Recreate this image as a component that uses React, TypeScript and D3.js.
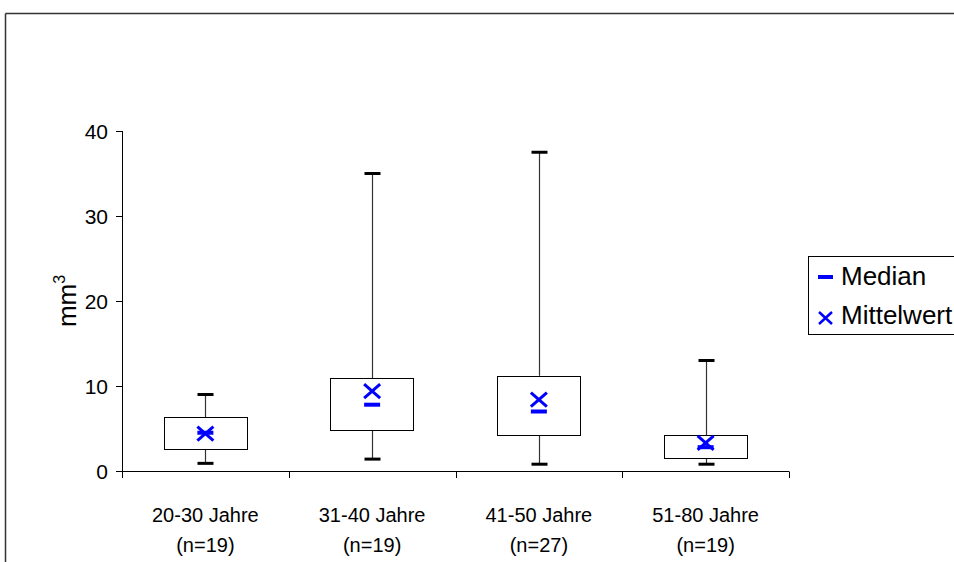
import React from "react";
import * as d3 from "d3";

const categories = ["20-30 Jahre", "31-40 Jahre", "41-50 Jahre", "51-80 Jahre"];
const sampleSizes = ["(n=19)", "(n=19)", "(n=27)", "(n=19)"];
const whiskerMax = [9.0, 35.0, 37.5, 13.0];
const q3 = [6.3, 10.9, 11.2, 4.2];
const q1 = [2.5, 4.8, 4.3, 1.5];
const whiskerMin = [0.9, 1.4, 0.8, 0.8];
const medians = [4.5, 7.8, 7.0, 2.8];
const means = [4.4, 9.4, 8.4, 3.3];
const yTicks = [0, 10, 20, 30, 40];
const legendLabels = ["Median", "Mittelwert"];

const W = 954;
const H = 562;
const BLUE = "#0000ff";
const FONT = "Arial, 'Liberation Sans', Helvetica, sans-serif";

export default function App() {
  const x = d3.scaleBand<string>().domain(categories).range([122, 789]).padding(0);
  const y = d3.scaleLinear().domain([0, 40]).range([471, 131]);
  const bw = x.bandwidth();
  const boxW = bw * 0.5;
  const capW = 16;
  const boundaries = categories.map((c) => x(c)!).concat([x(categories[categories.length - 1])! + bw]);

  return (
    <svg width={W} height={H} style={{ position: "absolute", left: 0, top: 0 }} fontFamily={FONT}>
      <rect x={0} y={0} width={W} height={H} fill="#fff" />
      <line x1={5.5} x2={W} y1={13.5} y2={13.5} stroke="#333" strokeWidth={1.5} />
      <line x1={5.5} x2={5.5} y1={13.5} y2={H} stroke="#333" strokeWidth={1.5} />

      {/* y axis */}
      <line x1={122.5} x2={122.5} y1={y(40)} y2={y(0)} stroke="#000" strokeWidth={1} />
      {yTicks.map((t) => (
        <g key={t}>
          <line x1={116} x2={122.5} y1={Math.round(y(t)) + 0.5} y2={Math.round(y(t)) + 0.5} stroke="#000" />
          <text x={108} y={y(t)} dy="0.36em" textAnchor="end" fontSize={21} fill="#000">
            {t}
          </text>
        </g>
      ))}
      <text transform={`translate(76,${301}) rotate(-90)`} textAnchor="middle" fontSize={26} fill="#000">
        mm<tspan fontSize={16} dy={-11}>3</tspan>
      </text>

      {/* x axis */}
      <line x1={122} x2={boundaries[boundaries.length - 1]} y1={471.5} y2={471.5} stroke="#000" />
      {boundaries.map((b, i) => (
        <line key={i} x1={Math.round(b) + 0.5} x2={Math.round(b) + 0.5} y1={471.5} y2={478} stroke="#000" />
      ))}
      {categories.map((c, i) => (
        <g key={c}>
          <text x={x(c)! + bw / 2} y={522} textAnchor="middle" fontSize={20} fill="#000">
            {c}
          </text>
          <text x={x(c)! + bw / 2} y={552} textAnchor="middle" fontSize={20} fill="#000">
            {sampleSizes[i]}
          </text>
        </g>
      ))}

      {/* boxes */}
      {categories.map((c, i) => {
        const cx = Math.round(x(c)! + bw / 2) + 0.5;
        const mx = x(c)! + bw / 2;
        return (
          <g key={c}>
            <line x1={cx} x2={cx} y1={y(whiskerMax[i])} y2={y(q3[i])} stroke="#333" strokeWidth={1.2} />
            <line x1={cx} x2={cx} y1={y(q1[i])} y2={y(whiskerMin[i])} stroke="#333" strokeWidth={1.2} />
            <line x1={cx - capW / 2} x2={cx + capW / 2} y1={y(whiskerMax[i])} y2={y(whiskerMax[i])} stroke="#000" strokeWidth={3} />
            <line x1={cx - capW / 2} x2={cx + capW / 2} y1={y(whiskerMin[i])} y2={y(whiskerMin[i])} stroke="#000" strokeWidth={3} />
            <rect
              x={Math.round(mx - boxW / 2) + 0.5}
              y={Math.round(y(q3[i])) + 0.5}
              width={Math.round(boxW)}
              height={Math.round(y(q1[i]) - y(q3[i]))}
              fill="#fff"
              stroke="#000"
              strokeWidth={1}
            />
            <rect x={mx - 8} y={y(medians[i]) - 2} width={16} height={4} fill={BLUE} />
            <path
              d={`M${mx - 8},${y(means[i]) - 7}L${mx + 8},${y(means[i]) + 7}M${mx - 8},${y(means[i]) + 7}L${mx + 8},${y(means[i]) - 7}`}
              stroke={BLUE}
              strokeWidth={3}
              fill="none"
            />
          </g>
        );
      })}

      {/* legend */}
      <rect x={808.5} y={256.5} width={160} height={78} fill="#fff" stroke="#000" strokeWidth={1} />
      <rect x={818} y={275} width={15} height={4} fill={BLUE} />
      <text x={841} y={285} fontSize={26} fill="#000">
        {legendLabels[0]}
      </text>
      <path d="M819,312L832,324M819,324L832,312" stroke={BLUE} strokeWidth={2.5} fill="none" />
      <text x={841} y={324} fontSize={26} fill="#000">
        {legendLabels[1]}
      </text>
    </svg>
  );
}
